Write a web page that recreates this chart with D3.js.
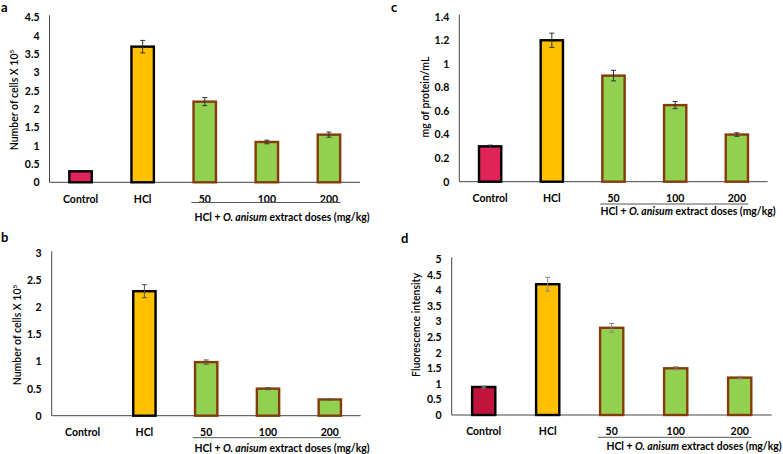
<!DOCTYPE html>
<html>
<head>
<meta charset="utf-8">
<script src="https://cdn.jsdelivr.net/npm/d3@7"></script>
<style>
  body { margin: 0; background: #fff; }
  text { font-family: Lato, "Open Sans", sans-serif; fill: #000; }
</style>
</head>
<body>
<svg id="fig" width="783" height="454"></svg>
<script>
// groups on the x axis
var groups = ["Control", "HCl", "50", "100", "200"];

// panel a: cell counts (x10^5)
var cellsA = [0.3, 3.7, 2.2, 1.1, 1.3];
var errA = [0, 0.17, 0.11, 0.05, 0.07];
var ticksA = [0, 0.5, 1, 1.5, 2, 2.5, 3, 3.5, 4, 4.5];

// panel b: cell counts (x10^5)
var cellsB = [0, 2.3, 0.99, 0.5, 0.3];
var errB = [0, 0.12, 0.04, 0.02, 0.01];
var ticksB = [0, 0.5, 1, 1.5, 2, 2.5, 3];

// panel c: protein
var proteinC = [0.3, 1.2, 0.9, 0.65, 0.4];
var errC = [0.01, 0.06, 0.045, 0.03, 0.015];
var ticksC = [0, 0.2, 0.4, 0.6, 0.8, 1, 1.2, 1.4];

// panel d: fluorescence
var fluorD = [0.9, 4.2, 2.8, 1.5, 1.2];
var errD = [0.03, 0.22, 0.14, 0.05, 0.04];
var ticksD = [0, 0.5, 1, 1.5, 2, 2.5, 3, 3.5, 4, 4.5, 5];

var svg = d3.select("#fig");

function panel(p) {
    var g = svg.append("g");
    var x = d3.scaleBand().domain(groups).range([p.x0, p.x1]).paddingInner(0.6).paddingOuter(0.3);
    var y = d3.scaleLinear().domain([0, d3.max(p.ticks)]).range([p.y0, p.yTop]);

    // y axis
    var ya = g.append("g").attr("transform", "translate(" + p.x0 + ",0)")
        .call(d3.axisLeft(y).tickValues(p.ticks).tickSize(0).tickPadding(10).tickFormat(d => String(d)));
    ya.select(".domain").attr("stroke", "#444").attr("d", "M0," + p.y0 + "V" + (p.yTop - 2));
    ya.selectAll("text").attr("font-size", 10.5).attr("font-weight", "bold").attr("font-family", "Lato, sans-serif");

    // x axis
    var xa = g.append("g").attr("transform", "translate(0," + p.y0 + ")")
        .call(d3.axisBottom(x).tickSize(0).tickPadding(13));
    xa.select(".domain").attr("stroke", "#444").attr("d", "M" + p.x0 + ",0H" + p.x1);
    xa.selectAll("text").attr("font-size", 10.5).attr("font-weight", "bold").attr("font-family", "Lato, sans-serif");

    // bars
    var data = groups.map((k, i) => ({ k: k, v: p.vals[i], e: p.errs[i], i: i }));
    var fills = [p.ctrl, "#ffc000", "#92d050", "#92d050", "#92d050"];
    var strokes = ["#000", "#000", "#843c0c", "#843c0c", "#843c0c"];
    g.selectAll(".bar").data(data.filter(d => d.v > 0)).enter().append("rect")
        .attr("x", d => x(d.k) + 1.2)
        .attr("width", x.bandwidth() - 2.4)
        .attr("y", d => y(d.v))
        .attr("height", d => y(0) - y(d.v))
        .attr("fill", d => fills[d.i])
        .attr("stroke", d => strokes[d.i])
        .attr("stroke-width", 2.4);

    // error bars
    var eb = g.selectAll(".err").data(data.filter(d => d.e > 0)).enter().append("g")
        .attr("stroke", p.errColor).attr("stroke-width", 1);
    var cx = d => x(d.k) + x.bandwidth() / 2;
    eb.append("line").attr("x1", cx).attr("x2", cx).attr("y1", d => y(d.v - d.e)).attr("y2", d => y(d.v + d.e));
    eb.append("line").attr("x1", d => cx(d) - 2.5).attr("x2", d => cx(d) + 2.5).attr("y1", d => y(d.v + d.e)).attr("y2", d => y(d.v + d.e));
    eb.append("line").attr("x1", d => cx(d) - 2.5).attr("x2", d => cx(d) + 2.5).attr("y1", d => y(d.v - d.e)).attr("y2", d => y(d.v - d.e));

    // bracket under dose groups
    g.append("line").attr("x1", x("50") - 1).attr("x2", x("200") + x.bandwidth() - 1)
        .attr("y1", p.lineY).attr("y2", p.lineY).attr("stroke", "#555").attr("stroke-width", 1);
    var sub = g.append("text").attr("x", p.subX).attr("y", p.subY).attr("text-anchor", "middle")
        .attr("font-size", 10.4).attr("font-weight", "bold");
    sub.append("tspan").text("HCl + ");
    sub.append("tspan").attr("font-style", "italic").text("O. anisum");
    sub.append("tspan").text(" extract doses (mg/kg)");

    // y label
    var yl = g.append("text").attr("transform", "translate(" + p.ylX + "," + p.ylY + ") rotate(-90)")
        .attr("text-anchor", "middle").attr("font-size", 10.5).attr("font-weight", 600);
    yl.append("tspan").text(p.ylab);
    if (p.sup) yl.append("tspan").attr("dy", -4).attr("font-size", 6.5).text(p.sup);

    // panel letter
    g.append("text").attr("x", p.lx).attr("y", p.ly).attr("font-size", 13).attr("font-weight", "bold")
        .attr("font-family", "Arial, 'Liberation Sans', sans-serif").text(p.letter);
}

panel({ letter: "a", lx: 1, ly: 12, vals: cellsA, errs: errA, ticks: ticksA, ctrl: "#e0245a", errColor: "#333",
    x0: 49.5, x1: 360, yTop: 17.3, y0: 182.3, lineY: 202.5, subX: 282, subY: 221,
    ylab: "Number of cells X 10", sup: "5", ylX: 18, ylY: 100 });
panel({ letter: "c", lx: 391, ly: 12, vals: proteinC, errs: errC, ticks: ticksC, ctrl: "#e0245a", errColor: "#333",
    x0: 459.3, x1: 767.7, yTop: 16.7, y0: 181.7, lineY: 204, subX: 688, subY: 215,
    ylab: "mg of protein/mL", sup: null, ylX: 429, ylY: 97 });
panel({ letter: "b", lx: 1, ly: 242, vals: cellsB, errs: errB, ticks: ticksB, ctrl: "#e0245a", errColor: "#555",
    x0: 51.7, x1: 360.7, yTop: 253.3, y0: 415.7, lineY: 437.7, subX: 282, subY: 452,
    ylab: "Number of cells X 10", sup: "5", ylX: 21, ylY: 335 });
panel({ letter: "d", lx: 401, ly: 243, vals: fluorD, errs: errD, ticks: ticksD, ctrl: "#c0143c", errColor: "#888",
    x0: 451.7, x1: 771.7, yTop: 259.3, y0: 415, lineY: 437.3, subX: 694, subY: 450,
    ylab: "Fluorescence intensity", sup: null, ylX: 420, ylY: 325 });
</script>
</body>
</html>
